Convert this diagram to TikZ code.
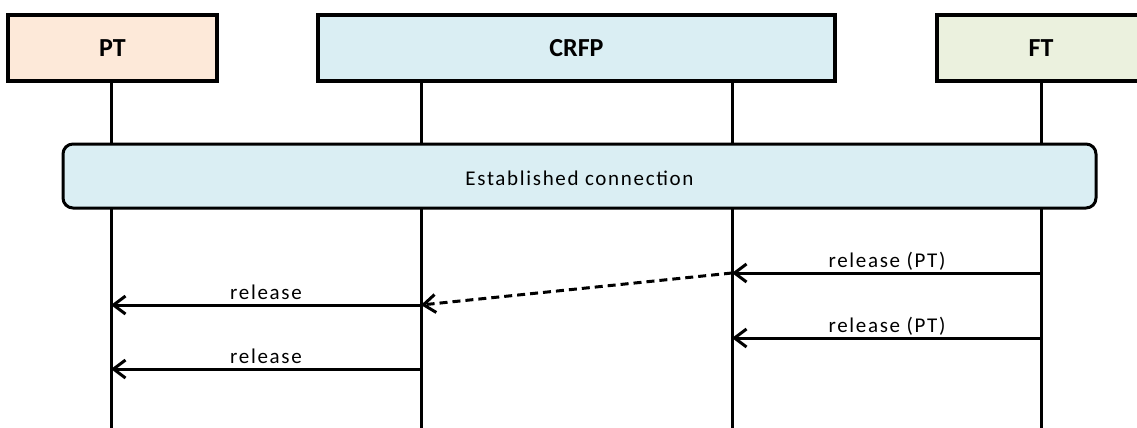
\documentclass[tikz,border=0pt]{standalone}
\usepackage{fontspec}
\setmainfont{Carlito}
\newfontfamily\lblfont{Carlito}[LetterSpace=8]
\usetikzlibrary{arrows.meta}
\definecolor{ptfill}{HTML}{FDE9D9}
\definecolor{crfpfill}{HTML}{DAEEF3}
\definecolor{ftfill}{HTML}{EBF1DE}
\tikzset{
  header/.style={draw=black, line width=3.5pt, minimum height=66pt, inner sep=0pt, font=\fontsize{26}{30}\selectfont\bfseries},
  lifeline/.style={draw=black, line width=3pt},
  msg/.style={draw=black, line width=3pt, -{Straight Barb[length=12pt, width=18pt, line width=3pt]}},
  dmsg/.style={msg, dash pattern=on 8pt off 5pt},
  lbl/.style={font=\lblfont\fontsize{21}{24}\selectfont, anchor=base, inner sep=0pt},
  state/.style={draw=black, line width=3pt, fill=crfpfill, rounded corners=10pt, minimum width=1033pt, minimum height=64pt, inner sep=0pt}
}
\begin{document}
\begin{tikzpicture}[x=1pt, y=-1pt]
\useasboundingbox (0,0) rectangle (1137,428);
\clip (0,0) rectangle (1137,428);
% headers
\node[header, fill=ptfill, minimum width=209pt] (PT) at (112.5,48) {PT};
\node[header, fill=crfpfill, minimum width=517pt] (CRFP) at (576.5,48) {CRFP};
\node[header, fill=ftfill, minimum width=208pt] (FT) at (1041,48) {FT};
% lifeline coordinates
\coordinate (ptT) at (111,81);   \coordinate (ptB) at (111,430);
\coordinate (c1T) at (421,81);   \coordinate (c1B) at (421,430);
\coordinate (c2T) at (732,81);   \coordinate (c2B) at (732,430);
\coordinate (ftT) at (1041,81);  \coordinate (ftB) at (1041,430);
\draw[lifeline] (ptT) -- (ptB);
\draw[lifeline] (c1T) -- (c1B);
\draw[lifeline] (c2T) -- (c2B);
\draw[lifeline] (ftT) -- (ftB);
% established connection
\node[state] (est) at (579.5,176) {};
\node[lbl] (estl) at (579.5,185) {Established connection};
% message points
\coordinate (m1s) at (1041,273); \coordinate (m1e) at (732,273);
\coordinate (m2s) at (421,305);  \coordinate (m2e) at (111,305);
\coordinate (m3s) at (1041,338); \coordinate (m3e) at (732,338);
\coordinate (m4s) at (421,369);  \coordinate (m4e) at (111,369);
\draw[msg] (m1s) -- (m1e);
\draw[dmsg] (m1e) -- (m2s);
\draw[msg] (m2s) -- (m2e);
\draw[msg] (m3s) -- (m3e);
\draw[msg] (m4s) -- (m4e);
% labels
\node[lbl] (l1) at (887,267) {release (PT)};
\node[lbl] (l2) at (266,299) {release};
\node[lbl] (l3) at (887,332) {release (PT)};
\node[lbl] (l4) at (266,363) {release};
\end{tikzpicture}
\end{document}
